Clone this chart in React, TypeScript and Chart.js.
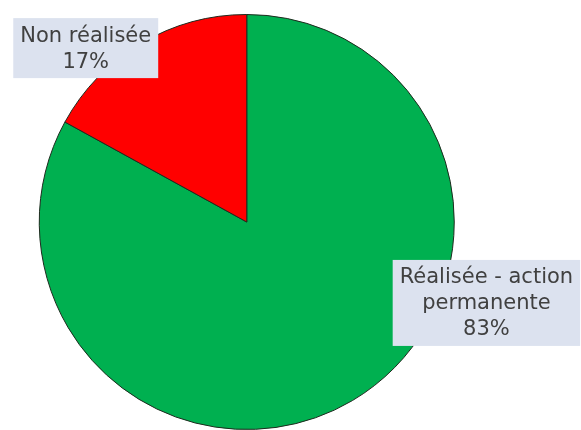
import React, { useEffect, useRef } from "react";
import { Chart, registerables } from "chart.js";

Chart.register(...registerables);

const categories: string[][] = [["Réalisée - action", "permanente"], ["Non réalisée"]];
const values: number[] = [83, 17];
const colors: string[] = ["#00B050", "#FF0000"];
// label box centres, relative to pie centre, in units of the radius
const labelOffsets: number[][] = [
  [1.155, 0.39],
  [-0.776, -0.838],
];

const labelPlugin = {
  id: "boxLabels",
  afterDatasetsDraw(chart: any) {
    const ctx = chart.ctx;
    const meta = chart.getDatasetMeta(0);
    const total = values.reduce((a, b) => a + b, 0);
    ctx.save();
    ctx.font = "21px 'DejaVu Sans', Verdana, sans-serif";
    ctx.textAlign = "center";
    ctx.textBaseline = "middle";
    meta.data.forEach((arc: any, i: number) => {
      const { x, y, outerRadius } = arc.getProps(["x", "y", "outerRadius"], true);
      const cx = x + labelOffsets[i][0] * outerRadius;
      const cy = y + labelOffsets[i][1] * outerRadius;
      const lines = [...categories[i], Math.round((values[i] / total) * 100) + "%"];
      const lh = 26;
      let w = 0;
      lines.forEach((l) => (w = Math.max(w, ctx.measureText(l).width)));
      const bw = w + 14;
      const bh = lines.length * lh + 8;
      ctx.fillStyle = "#DCE2EF";
      ctx.fillRect(cx - bw / 2, cy - bh / 2, bw, bh);
      ctx.fillStyle = "#404040";
      lines.forEach((l, k) => {
        ctx.fillText(l, cx, cy - ((lines.length - 1) * lh) / 2 + k * lh + 1);
      });
    });
    ctx.restore();
  },
};

export default function App() {
  const ref = useRef<HTMLCanvasElement>(null);
  useEffect(() => {
    document.body.style.margin = "0";
    const chart = new Chart(ref.current!, {
      type: "pie",
      data: {
        labels: categories.map((c) => c.join(" ")),
        datasets: [
          {
            data: values,
            backgroundColor: colors,
            borderColor: "#1e2a1e",
            borderWidth: 1,
          },
        ],
      },
      options: {
        animation: false,
        responsive: false,
        layout: { padding: { top: 14, bottom: 0, left: 38.5, right: 126 } },
        plugins: {
          legend: { display: false },
          tooltip: { enabled: false },
        },
      },
      plugins: [labelPlugin],
    });
    return () => chart.destroy();
  }, []);
  return (
    <div style={{ width: 581, height: 430, background: "#fff" }}>
      <canvas ref={ref} width={581} height={430} />
    </div>
  );
}
